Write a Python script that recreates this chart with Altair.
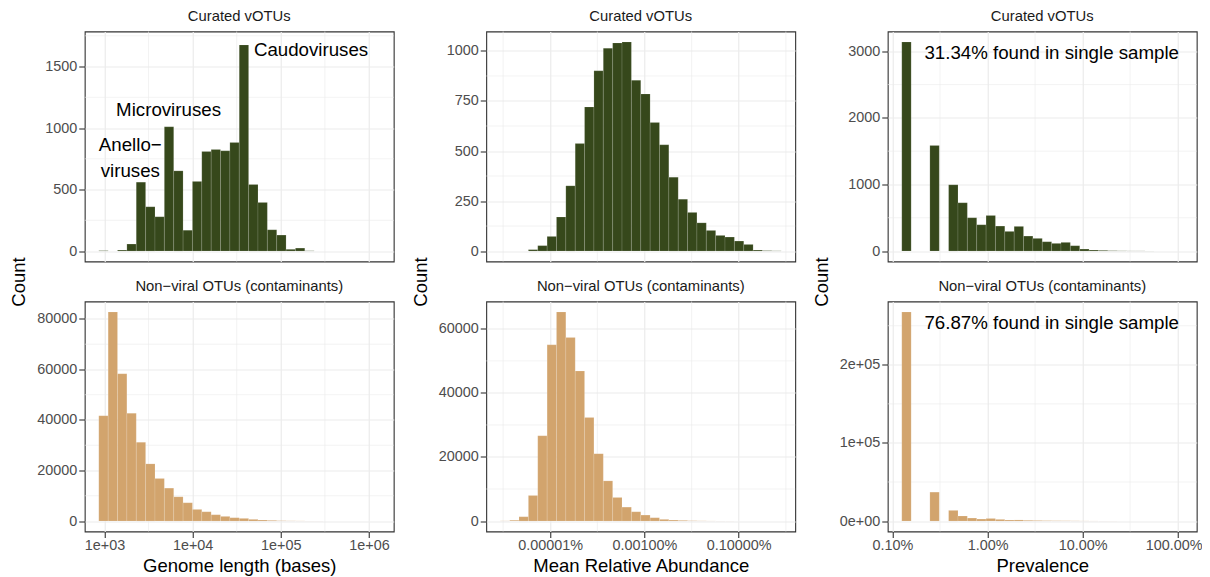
import altair as alt
import pandas as pd

FONT = "Liberation Sans"
GREEN = "#36481B"
TAN = "#D2A46D"

# ---- histogram bins (log10 of the x variable): first lower edge and bin width
N_BINS = 30
genome_bin_start, genome_bin_width = 2.936, 0.1062
abund_bin_start, abund_bin_width = -8.060, 0.1987
prev_bin_start, prev_bin_width = -2.902, 0.0985

# ---- counts per bin
genome_vOTU = [3, 0, 8, 57, 560, 360, 279, 1010, 652, 170, 566, 809, 826, 815, 883,
               1676, 541, 395, 173, 130, 14, 24, 2, 0, 0, 0, 0, 0, 0, 0]
genome_contam = [41700, 82760, 58290, 42630, 31180, 22630, 16840, 13030, 9600, 7240,
                 4600, 3680, 2500, 1840, 1320, 1050, 660, 400, 260, 130,
                 80, 50, 30, 20, 10, 5, 3, 2, 1, 1]
abund_vOTU = [0, 0, 0, 7, 27, 73, 170, 326, 537, 720, 901, 1014, 1040, 1045, 853,
              785, 642, 531, 369, 259, 193, 141, 103, 78, 70, 50, 33, 5, 2, 1]
abund_contam = [50, 250, 1350, 7980, 26630, 55030, 65280, 57310, 46840, 32330,
                21040, 12540, 7360, 4350, 2900, 1870, 1040, 520, 310, 200,
                100, 60, 30, 20, 10, 5, 3, 2, 1, 1]
prev_vOTU = [3140, 0, 0, 1585, 0, 995, 725, 500, 395, 535, 375, 295, 370, 225, 190,
             140, 115, 130, 80, 30, 15, 10, 5, 3, 2, 2, 1, 0, 0, 0]
prev_contam = [267660, 0, 0, 37020, 0, 13620, 6380, 3830, 2550, 3400, 2100, 1300,
               1400, 900, 700, 500, 400, 350, 250, 150, 100, 70, 50, 30, 20, 10, 5, 3, 2, 1]

# ---- axis ticks & labels
genome_ticks = [3, 4, 5, 6]
genome_minor = [3.5, 4.5, 5.5]
genome_labels = ["1e+03", "1e+04", "1e+05", "1e+06"]
abund_ticks = [-7, -5, -3]
abund_minor = [-8, -6, -4, -2]
abund_labels = ["0.00001%", "0.00100%", "0.10000%"]
prev_ticks = [-3, -2, -1, 0]
prev_minor = [-2.5, -1.5, -0.5]
prev_labels = ["0.10%", "1.00%", "10.00%", "100.00%"]

x_titles = ["Genome length (bases)", "Mean Relative Abundance", "Prevalence"]
strip_titles = ["Curated vOTUs", "Non\u2212viral OTUs (contaminants)"]

# y axes: upper limit of data range, major ticks, minor ticks
y_top = [1700, 82760, 1045, 65280, 3140, 267660]
y_ticks = [[0, 500, 1000, 1500], [0, 20000, 40000, 60000, 80000],
           [0, 250, 500, 750, 1000], [0, 20000, 40000, 60000],
           [0, 1000, 2000, 3000], [0, 100000, 200000]]
y_minor = [[250, 750, 1250, 1750], [10000, 30000, 50000, 70000],
           [125, 375, 625, 875], [10000, 30000, 50000],
           [500, 1500, 2500], [50000, 150000, 250000]]
prev_contam_ylabels = ["0e+00", "1e+05", "2e+05"]

# ---- annotations (data coordinates)
genome_ann_text = ["Caudoviruses", "Microviruses", "Anello\u2212\nviruses"]
genome_ann_x = [5.343, 3.727, 3.293]
genome_ann_y = [1632, 1149, 866]
prev_ann_text_vOTU = ["31.34% found in single sample"]
prev_ann_text_contam = ["76.87% found in single sample"]
prev_ann_x = [-1.325]
prev_ann_y_vOTU = [2970]
prev_ann_y_contam = [252900]

W, H = 309, 230
GRID = "#EBEBEB"
DARK = "#333333"


def label_expr(values, labels):
    parts = [f"datum.value == {v} ? '{lab}'" for v, lab in zip(values, labels)]
    return " : ".join(parts) + " : ''"


def panel(counts, start, width, color, ytop, yt, ym, xt, xm, xlabels, strip,
          bottom, xtitle, ytitle, ylabels=None, ann=None, last_label_shift=0):
    lo = [start + i * width for i in range(len(counts))]
    df = pd.DataFrame({"lo": lo, "hi": [v + width for v in lo], "count": counts})
    df = df[df["count"] > 0]
    span = width * len(counts)
    xscale = alt.Scale(domain=[start - 0.05 * span, start + 1.05 * span], nice=False, zero=False)
    yscale = alt.Scale(domain=[-0.05 * ytop, 1.05 * ytop], nice=False, zero=False)

    common = dict(grid=True, gridColor=GRID, gridWidth=1.2, domain=False,
                  tickColor=DARK, tickWidth=1.1, tickSize=6, labelColor="#4D4D4D",
                  labelFont=FONT, labelFontSize=14.4,
                  labelOverlap=False, labelFlush=False,
                  titleFont=FONT, titleFontSize=18.5, titleColor="#000000",
                  titleFontWeight="normal")
    if bottom:
        xargs = dict(common)
        if last_label_shift:
            xargs["labelOffset"] = {"condition": {"test": f"datum.value == {xt[-1]}",
                                                  "value": last_label_shift},
                                    "value": 0}
        xaxis = alt.Axis(values=xt, labelExpr=label_expr(xt, xlabels), title=xtitle,
                         labelPadding=1, titlePadding=4.5, **xargs)
    else:
        xaxis = alt.Axis(values=xt, labels=False, ticks=False, title=None,
                         grid=True, gridColor=GRID, gridWidth=1.2, domain=False)
    yargs = dict(common)
    yargs["labelPadding"] = 2
    if ylabels is not None:
        yargs["labelExpr"] = label_expr(yt, ylabels)
    else:
        yargs["format"] = "d"
    if ytitle:
        yaxis = alt.Axis(values=yt, title=ytitle, titleX=-66, titleY=H + 20,
                         titleAngle=270, titleAlign="center", titleBaseline="middle", **yargs)
    else:
        yaxis = alt.Axis(values=yt, title=None, **yargs)

    minor_x = alt.Chart(pd.DataFrame({"v": xm})).mark_rule(
        color=GRID, strokeWidth=0.6).encode(x=alt.X("v:Q", scale=xscale, axis=xaxis))
    minor_y = alt.Chart(pd.DataFrame({"v": ym})).mark_rule(
        color=GRID, strokeWidth=0.6).encode(y=alt.Y("v:Q", scale=yscale, axis=yaxis))
    bars = alt.Chart(df).mark_rect(
        color=color, stroke="#FFFFFF", strokeOpacity=0.22, strokeWidth=0.6).encode(
        x=alt.X("lo:Q", scale=xscale, axis=xaxis),
        x2="hi:Q",
        y=alt.Y("count:Q", scale=yscale, axis=yaxis),
        y2=alt.datum(0),
    )
    layers = [minor_x, minor_y, bars]
    if ann is not None:
        adf = pd.DataFrame({"t": ann[0], "x": ann[1], "y": ann[2]})
        txt = alt.Chart(adf).mark_text(
            font=FONT, fontSize=18.7, color="#000000", align="center",
            baseline="middle", lineBreak="\n", lineHeight=26).encode(
            x=alt.X("x:Q", scale=xscale, axis=xaxis),
            y=alt.Y("y:Q", scale=yscale, axis=yaxis),
            text="t:N")
        layers.append(txt)
    return alt.layer(*layers).properties(
        width=W, height=H,
        title=alt.TitleParams(text=strip, font=FONT, fontSize=14.8, color="#1A1A1A",
                              fontWeight="normal", anchor="middle", offset=-7.2,
                              baseline="bottom"))


p11 = panel(genome_vOTU, genome_bin_start, genome_bin_width, GREEN, y_top[0], y_ticks[0], y_minor[0],
            genome_ticks, genome_minor, genome_labels, strip_titles[0], False, None, "Count",
            ann=(genome_ann_text, genome_ann_x, genome_ann_y))
p12 = panel(genome_contam, genome_bin_start, genome_bin_width, TAN, y_top[1], y_ticks[1], y_minor[1],
            genome_ticks, genome_minor, genome_labels, strip_titles[1], True, x_titles[0], None)
p21 = panel(abund_vOTU, abund_bin_start, abund_bin_width, GREEN, y_top[2], y_ticks[2], y_minor[2],
            abund_ticks, abund_minor, abund_labels, strip_titles[0], False, None, "Count")
p22 = panel(abund_contam, abund_bin_start, abund_bin_width, TAN, y_top[3], y_ticks[3], y_minor[3],
            abund_ticks, abund_minor, abund_labels, strip_titles[1], True, x_titles[1], None)
p31 = panel(prev_vOTU, prev_bin_start, prev_bin_width, GREEN, y_top[4], y_ticks[4], y_minor[4],
            prev_ticks, prev_minor, prev_labels, strip_titles[0], False, None, "Count",
            ann=(prev_ann_text_vOTU, prev_ann_x, prev_ann_y_vOTU))
p32 = panel(prev_contam, prev_bin_start, prev_bin_width, TAN, y_top[5], y_ticks[5], y_minor[5],
            prev_ticks, prev_minor, prev_labels, strip_titles[1], True, x_titles[2], None,
            ylabels=prev_contam_ylabels,
            ann=(prev_ann_text_contam, prev_ann_x, prev_ann_y_contam),
            last_label_shift=-4)

chart = alt.concat(p11, p21, p31, p12, p22, p32, columns=3,
                   spacing=alt.RowColnumber(row=40, column=92.5), bounds="flush").properties(
    padding={"left": 0.75, "top": -0.5, "right": -1, "bottom": 0}
).configure(font=FONT).configure_view(stroke=DARK, strokeWidth=1.1)

chart.save("out.html", embed_options={"renderer": "svg", "actions": False})
